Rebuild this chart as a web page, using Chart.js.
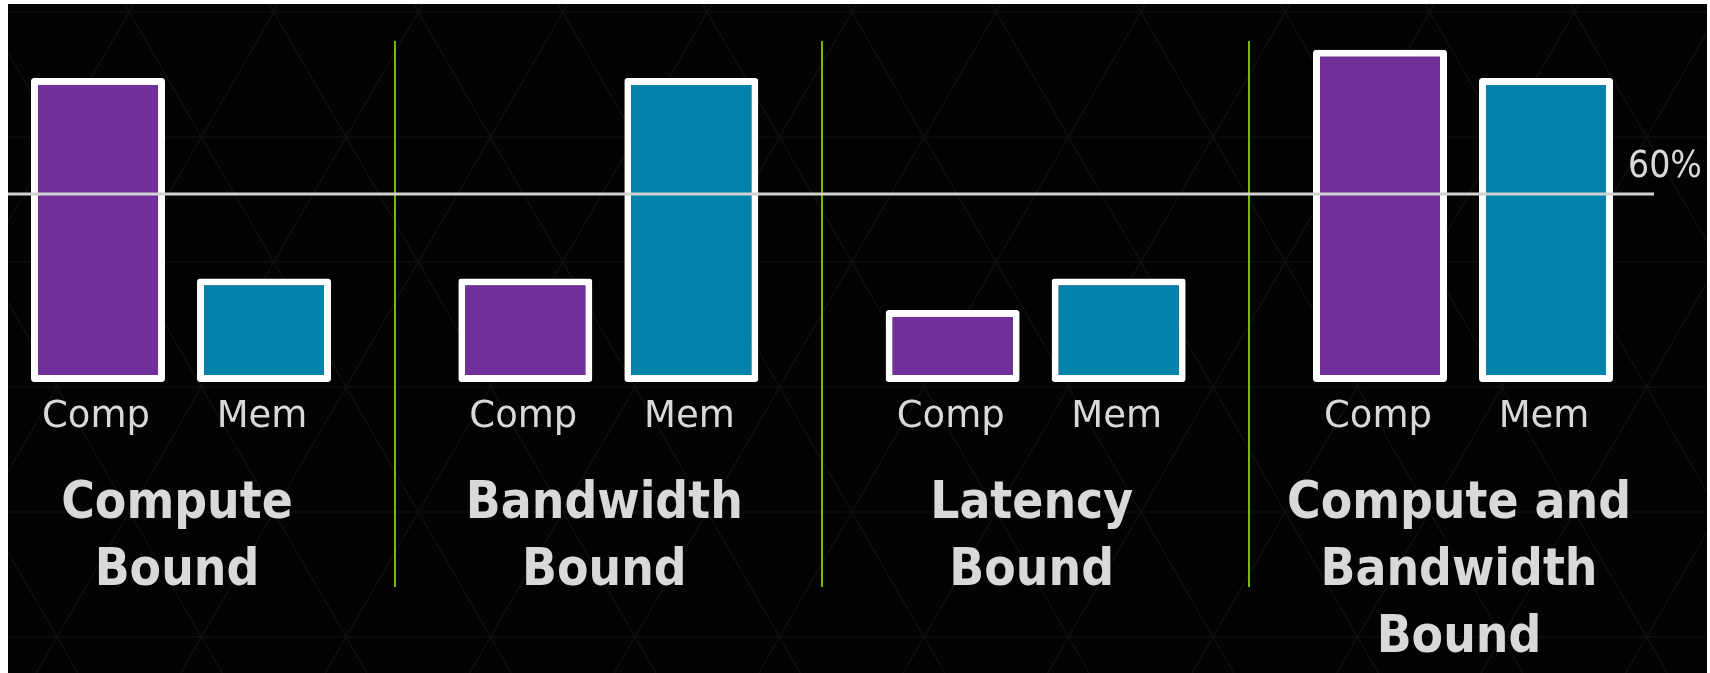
<!DOCTYPE html>
<html>
<head>
<meta charset="utf-8">
<script src="https://cdn.jsdelivr.net/npm/chart.js@4"></script>
<style>
  html, body { margin: 0; padding: 0; background: #fff; }
  #wrap { position: absolute; left: 8px; top: 4px; width: 1699px; height: 669px; background: #030303; }
</style>
</head>
<body>
<div id="wrap"><canvas id="boundChart"></canvas></div>
<script>
const groups = [['Compute', 'Bound'], ['Bandwidth', 'Bound'], ['Latency', 'Bound'], ['Compute and', 'Bandwidth', 'Bound']];
const seriesNames = ['Comp', 'Mem'];
const compValues = [97, 33, 23, 106];
const memValues = [33, 97, 33, 97];
const thresholdValue = 60;
const thresholdLabel = '60%';

const textColor = '#d9d9d9';

// faint triangle pattern behind everything
const backdrop = {
  id: 'backdrop',
  beforeDraw(chart) {
    const { ctx, width, height } = chart;
    ctx.save();
    ctx.strokeStyle = 'rgba(255,255,255,0.05)';
    ctx.lineWidth = 1.5;
    const side = 144.5, rowH = 125, x0 = 49, y0 = 633, k = (side / 2) / rowH;
    ctx.beginPath();
    for (let y = y0 - rowH * 6; y <= height; y += rowH) {
      ctx.moveTo(0, y);
      ctx.lineTo(width, y);
    }
    for (let m = -12; m < 30; m++) {
      const xa = x0 + side * m;
      ctx.moveTo(xa + (0 - y0) * k, 0);
      ctx.lineTo(xa + (height - y0) * k, height);
      ctx.moveTo(xa - (0 - y0) * k, 0);
      ctx.lineTo(xa - (height - y0) * k, height);
    }
    ctx.stroke();
    ctx.restore();
  }
};

// threshold line, bar names and group titles
const overlay = {
  id: 'overlay',
  afterDatasetsDraw(chart) {
    const { ctx } = chart;
    const x = chart.scales.x, y = chart.scales.y;
    const base = y.getPixelForValue(0);
    const ty = y.getPixelForValue(thresholdValue);

    ctx.save();
    ctx.strokeStyle = '#d2d2d2';
    ctx.lineWidth = 3;
    ctx.beginPath();
    ctx.moveTo(0, ty);
    ctx.lineTo(1646, ty);
    ctx.stroke();

    ctx.fillStyle = textColor;
    ctx.font = '37px "DejaVu Sans Condensed", "DejaVu Sans", sans-serif';
    ctx.textAlign = 'left';
    ctx.textBaseline = 'alphabetic';
    ctx.fillText(thresholdLabel, 1620, ty - 17);

    ctx.textAlign = 'center';
    ctx.font = '37px "DejaVu Sans", sans-serif';
    chart.data.datasets.forEach((ds, di) => {
      chart.getDatasetMeta(di).data.forEach(bar => {
        ctx.fillText(seriesNames[di], bar.x - 2, base + 45);
      });
    });

    ctx.font = 'bold 51px "DejaVu Sans Condensed", "DejaVu Sans", sans-serif';
    groups.forEach((lines, i) => {
      const cx = x.getPixelForTick(i) - 4;
      lines.forEach((line, li) => {
        ctx.fillText(line, cx, base + 136 + li * 67);
      });
    });
    ctx.restore();
  }
};

const barStyle = {
  borderColor: '#ffffff',
  borderWidth: 7,
  borderRadius: 3,
  borderSkipped: false,
  barPercentage: 0.807,
  categoryPercentage: 0.777,
  clip: false
};

new Chart(document.getElementById('boundChart'), {
  type: 'bar',
  data: {
    labels: groups.map(g => g.join(' ')),
    datasets: [
      Object.assign({ label: seriesNames[0], data: compValues, backgroundColor: '#712f9b' }, barStyle),
      Object.assign({ label: seriesNames[1], data: memValues, backgroundColor: '#0383ac' }, barStyle)
    ]
  },
  options: {
    responsive: true,
    maintainAspectRatio: false,
    animation: false,
    devicePixelRatio: 1,
    layout: { padding: { left: 173, right: 244, top: 37, bottom: 86 } },
    plugins: { legend: { display: false }, tooltip: { enabled: false } },
    scales: {
      x: {
        offset: false,
        ticks: { display: false },
        border: { display: false },
        grid: { offset: true, color: '#76b900', lineWidth: 2, drawTicks: false }
      },
      y: {
        display: false,
        min: -65.4,
        max: 108.8
      }
    }
  },
  plugins: [backdrop, overlay]
});
</script>
</body>
</html>
